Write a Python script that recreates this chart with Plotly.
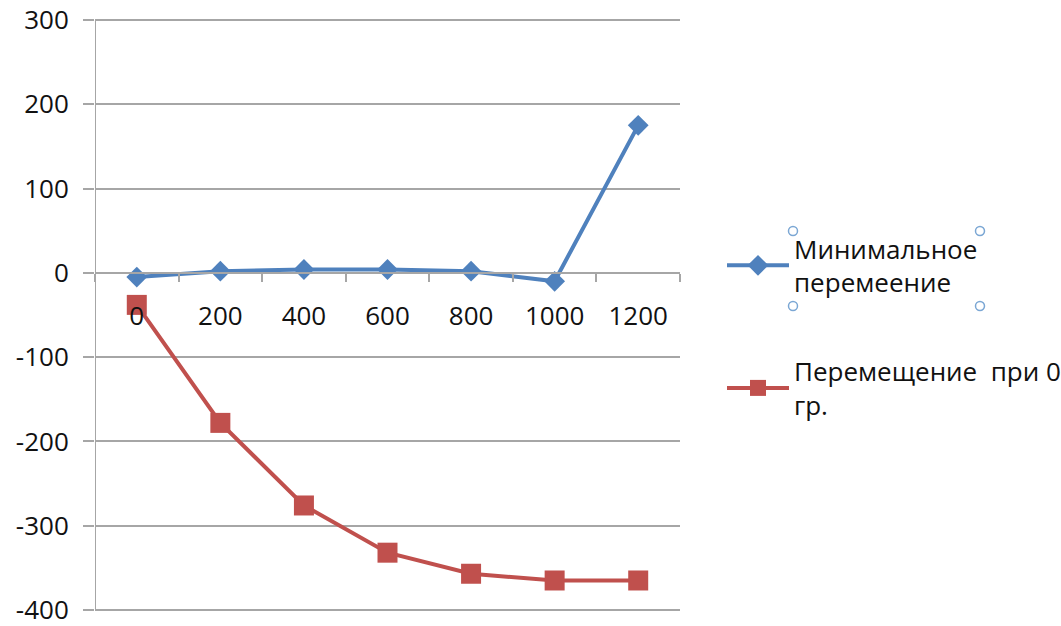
import plotly.graph_objects as go

categories = ["0", "200", "400", "600", "800", "1000", "1200"]
min_disp = [-5, 2, 4, 4, 2, -10, 175]
disp_0 = [-38, -178, -276, -332, -357, -365, -365]
y_ticks = [-400, -300, -200, -100, 0, 100, 200, 300]
y_tick_text = ["-400", "-300", "-200", "-100", "0", "100", "200", "300"]
name_min = "Минимальное<br>перемеение"
name_0 = "Перемещение  при 0<br>гр."

BLUE = "#4F81BD"
RED = "#C0504D"
GRID = "#A6A6A6"
FONT = "Open Sans"
TXT = "#111111"

fig = go.Figure()
fig.add_trace(go.Scatter(x=categories, y=min_disp, name=name_min, mode="lines+markers",
                         legendgroup="a",
                         line=dict(color=BLUE, width=4),
                         marker=dict(symbol="diamond", size=16, color=BLUE)))
fig.add_trace(go.Scatter(x=categories, y=disp_0, name=name_0, mode="lines+markers",
                         legendgroup="b",
                         line=dict(color=RED, width=4),
                         marker=dict(symbol="square", size=20, color=RED)))

L, R, T, B = 95, 381, 19, 15
W, H = 1061, 626
pw, ph = W - L - R, H - T - B

def px2paper(x, y):
    return (x - L) / pw, (H - B - y) / ph

shapes = []
for (hx, hy) in [(793, 231), (980, 231), (793, 306), (980, 306)]:
    x0, y0 = px2paper(hx - 4.5, hy + 4.5)
    x1, y1 = px2paper(hx + 4.5, hy - 4.5)
    shapes.append(dict(type="circle", xref="paper", yref="paper", x0=x0, y0=y0, x1=x1, y1=y1,
                       line=dict(color="#7BA7D4", width=1.5), fillcolor="white"))

ymin, ymax = -401.2, 301.2
lx, ly = px2paper(722, 225)

fig.update_layout(
    width=W, height=H,
    margin=dict(l=L, r=R, t=T, b=B, autoexpand=False),
    paper_bgcolor="white", plot_bgcolor="white",
    font=dict(family=FONT, size=26, color=TXT),
    showlegend=True,
    legend=dict(x=lx, y=ly, xanchor="left", yanchor="top", itemwidth=62,
                traceorder="grouped", tracegroupgap=52,
                font=dict(family=FONT, size=26, color=TXT),
                bgcolor="rgba(0,0,0,0)"),
    shapes=shapes,
    xaxis=dict(type="category", range=[-0.5, 6.5], anchor="free",
               position=(0 - ymin) / (ymax - ymin), automargin=False,
               showline=True, linecolor=GRID, linewidth=2,
               ticks="outside", ticklen=8, tickcolor=GRID, tickwidth=2,
               tickson="boundaries", showgrid=False, ticklabelstandoff=20,
               tickfont=dict(family=FONT, size=26, color=TXT)),
    yaxis=dict(range=[ymin, ymax], tickvals=y_ticks, ticktext=y_tick_text,
               automargin=False, ticklabeloverflow="allow",
               showline=False,
               ticks="outside", ticklen=11, tickcolor=GRID, tickwidth=2,
               showgrid=True, gridcolor=GRID, gridwidth=2, zeroline=False,
               ticklabelstandoff=9,
               tickfont=dict(family=FONT, size=26, color=TXT)),
)
# vertical axis line drawn at the category-axis left boundary
fig.add_shape(type="line", xref="x", yref="y", x0=-0.5, x1=-0.5, y0=y_ticks[0], y1=y_ticks[-1],
              line=dict(color=GRID, width=2), layer="above")

fig.write_html("out.html", config={"displayModeBar": False},
               post_script="document.body.style.margin='0';")
